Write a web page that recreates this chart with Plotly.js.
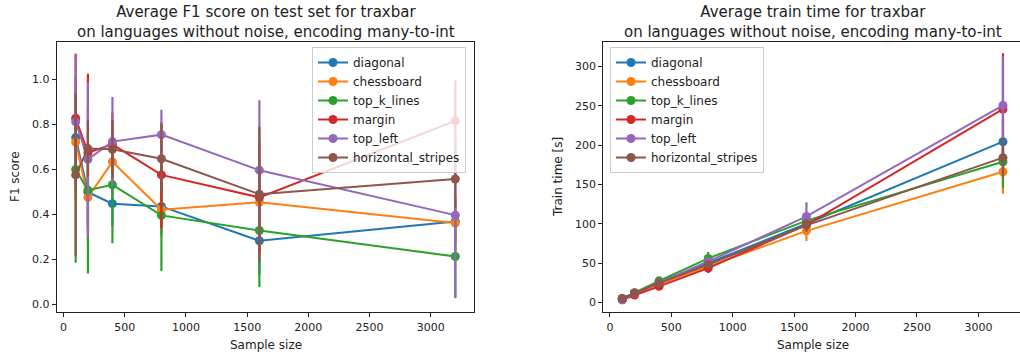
<!DOCTYPE html>
<html>
<head>
<meta charset="utf-8">
<script src="https://cdn.plot.ly/plotly-3.0.1.min.js"></script>
<style>
html,body{margin:0;padding:0;overflow:hidden;background:#fff;}
#chart{width:1023px;height:359px;}
</style>
</head>
<body>
<div id="chart"></div>
<script>
// ---- data ----
const sampleSizes = [100, 200, 400, 800, 1600, 3200];
const seriesNames = ["diagonal", "chessboard", "top_k_lines", "margin", "top_left", "horizontal_stripes"];
const seriesColors = ["#1f77b4", "#ff7f0e", "#2ca02c", "#d62728", "#9467bd", "#8c564b"];

// F1 score means
const f1Diagonal   = [0.741, 0.498, 0.447, 0.435, 0.282, 0.368];
const f1Chessboard = [0.721, 0.475, 0.633, 0.420, 0.453, 0.361];
const f1TopK       = [0.599, 0.507, 0.531, 0.395, 0.328, 0.212];
const f1Margin     = [0.827, 0.674, 0.711, 0.575, 0.475, 0.815];
const f1TopLeft    = [0.811, 0.644, 0.723, 0.754, 0.596, 0.396];
const f1HStripes   = [0.575, 0.692, 0.689, 0.647, 0.489, 0.557];
// F1 score std
const f1DiagonalErr   = [0.20, 0.15, 0.10, 0.12, 0.15, 0.10];
const f1ChessboardErr = [0.25, 0.20, 0.12, 0.12, 0.20, 0.12];
const f1TopKErr       = [0.415, 0.371, 0.26, 0.247, 0.251, 0.18];
const f1MarginErr     = [0.287, 0.351, 0.14, 0.235, 0.25, 0.18];
const f1TopLeftErr    = [0.296, 0.344, 0.198, 0.111, 0.311, 0.37];
const f1HStripesErr   = [0.36, 0.125, 0.13, 0.155, 0.30, 0.13];

// Train time means [s]
const ttDiagonal   = [4.5, 11, 26, 50, 100, 204.3];
const ttChessboard = [4, 10.5, 23, 45.8, 91, 166.1];
const ttTopK       = [5, 12.5, 27.5, 56, 104, 178.8];
const ttMargin     = [3.5, 9.5, 20.5, 43.6, 98.7, 245.8];
const ttTopLeft    = [3.5, 11.5, 25, 52, 109.4, 250.5];
const ttHStripes   = [5, 12, 24.6, 48, 98, 184];
// Train time std
const ttDiagonalErr   = [0.5, 1, 2, 3, 6, 30];
const ttChessboardErr = [0.5, 1, 2, 3, 13, 28];
const ttTopKErr       = [0.8, 1.5, 2.5, 8, 6, 33];
const ttMarginErr     = [0.5, 1, 2, 6, 5, 71];
const ttTopLeftErr    = [0.5, 1, 2, 4, 18, 62];
const ttHStripesErr   = [0.5, 1, 2, 4, 8, 25];

const xTicks = [0, 500, 1000, 1500, 2000, 2500, 3000];
const f1Ticks = [0.0, 0.2, 0.4, 0.6, 0.8, 1.0];
const ttTicks = [0, 50, 100, 150, 200, 250, 300];

const f1Means = [f1Diagonal, f1Chessboard, f1TopK, f1Margin, f1TopLeft, f1HStripes];
const f1Errs  = [f1DiagonalErr, f1ChessboardErr, f1TopKErr, f1MarginErr, f1TopLeftErr, f1HStripesErr];
const ttMeans = [ttDiagonal, ttChessboard, ttTopK, ttMargin, ttTopLeft, ttHStripes];
const ttErrs  = [ttDiagonalErr, ttChessboardErr, ttTopKErr, ttMarginErr, ttTopLeftErr, ttHStripesErr];

// ---- build ----
const FONT = "DejaVu Sans, sans-serif";
const traces = [];
function mk(i, ys, errs, xa, ya, leg) {
  return {
    type: "scatter", mode: "lines+markers",
    x: sampleSizes, y: ys, name: seriesNames[i],
    xaxis: xa, yaxis: ya, legend: leg,
    line: {color: seriesColors[i], width: 2},
    marker: {color: seriesColors[i], size: 9},
    error_y: {type: "data", array: errs, visible: true, width: 0, thickness: 2.2, color: seriesColors[i]}
  };
}
for (let i = 0; i < seriesNames.length; i++) traces.push(mk(i, f1Means[i], f1Errs[i], "x", "y", "legend"));
for (let i = 0; i < seriesNames.length; i++) traces.push(mk(i, ttMeans[i], ttErrs[i], "x2", "y2", "legend2"));

const W = 1023, H = 359;
const axCommon = {
  showgrid: false, zeroline: false, showline: true, mirror: true,
  linecolor: "#222", linewidth: 1, ticks: "outside", ticklen: 4, tickwidth: 1, tickcolor: "#222",
  tickfont: {family: FONT, size: 11, color: "#222"}
};
const legCommon = {
  bgcolor: "rgba(255,255,255,0.8)", bordercolor: "#cccccc", borderwidth: 1,
  font: {family: FONT, size: 12, color: "#222"}, xanchor: "left", yanchor: "top",
  tracegroupgap: 0
};
const annFont = {family: FONT, size: 12, color: "#222"};
const layout = {
  width: W, height: H,
  margin: {l: 0, r: 0, t: 0, b: 0},
  paper_bgcolor: "#fff", plot_bgcolor: "#fff",
  showlegend: true,
  xaxis: Object.assign({}, axCommon, {domain: [56.7 / W, 474.3 / W], range: [-55, 3355], tickvals: xTicks, anchor: "y"}),
  yaxis: Object.assign({}, axCommon, {domain: [1 - 312.3 / H, 1 - 42 / H], range: [-0.036, 1.166], tickvals: f1Ticks, tickformat: ".1f", anchor: "x"}),
  xaxis2: Object.assign({}, axCommon, {domain: [603.2 / W, 1022 / W], range: [-55, 3355], tickvals: xTicks, anchor: "y2"}),
  yaxis2: Object.assign({}, axCommon, {domain: [1 - 312.3 / H, 1 - 42 / H], range: [-12.5, 331], tickvals: ttTicks, anchor: "x2"}),
  legend: Object.assign({}, legCommon, {x: 312 / W, y: 1 - 47 / H}),
  legend2: Object.assign({}, legCommon, {x: 610 / W, y: 1 - 47 / H}),
  annotations: [
    {text: "Average F1 score on test set for traxbar<br>on languages without noise, encoding many-to-int", xref: "paper", yref: "paper", x: 265.5 / W, y: 1 - 1 / H, xanchor: "center", yanchor: "top", showarrow: false, font: {family: FONT, size: 15, color: "#222"}},
    {text: "Average train time for traxbar<br>on languages without noise, encoding many-to-int", xref: "paper", yref: "paper", x: 812.6 / W, y: 1 - 1 / H, xanchor: "center", yanchor: "top", showarrow: false, font: {family: FONT, size: 15, color: "#222"}},
    {text: "F1 score", xref: "paper", yref: "paper", x: 15 / W, y: 1 - 177 / H, xanchor: "center", yanchor: "middle", textangle: -90, showarrow: false, font: annFont},
    {text: "Train time [s]", xref: "paper", yref: "paper", x: 558 / W, y: 1 - 177 / H, xanchor: "center", yanchor: "middle", textangle: -90, showarrow: false, font: annFont},
    {text: "Sample size", xref: "paper", yref: "paper", x: 265.5 / W, y: 1 - 345 / H, xanchor: "center", yanchor: "middle", showarrow: false, font: annFont},
    {text: "Sample size", xref: "paper", yref: "paper", x: 812.6 / W, y: 1 - 345 / H, xanchor: "center", yanchor: "middle", showarrow: false, font: annFont}
  ]
};
Plotly.newPlot("chart", traces, layout, {displayModeBar: false, staticPlot: true});
</script>
</body>
</html>
